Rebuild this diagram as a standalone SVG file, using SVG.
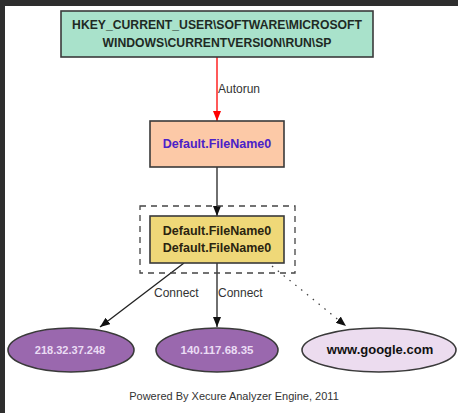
<svg xmlns="http://www.w3.org/2000/svg" width="458" height="413" viewBox="0 0 458 413">
<defs>
<style>
.lbl{font-family:"Liberation Sans",Arial,sans-serif;font-size:12px;fill:#333;}
.bold{font-family:"Liberation Sans",Arial,sans-serif;font-weight:bold;text-anchor:middle;}
.node{stroke:#3a3a3a;stroke-width:1.6;}
.edge{fill:none;stroke-width:1.3;}
</style>
<marker id="ah" markerWidth="10" markerHeight="8" refX="10" refY="4" orient="auto" markerUnits="userSpaceOnUse"><path d="M0,0 L10,4 L0,8 Z" fill="#111"/></marker>
<marker id="ahr" markerWidth="10" markerHeight="8" refX="10" refY="4" orient="auto" markerUnits="userSpaceOnUse"><path d="M0,0 L10,4 L0,8 Z" fill="#ff0000"/></marker>
</defs>
<rect x="0" y="0" width="458" height="413" fill="#2e2e2e"/>
<rect x="5" y="6" width="453" height="407" fill="#ffffff"/>

<g id="connectors">
<path class="edge" d="M217,57 L217,121" stroke="#ff0000" marker-end="url(#ahr)"/>
<text class="lbl" x="218" y="93">Autorun</text>
<path class="edge" d="M217,167 L217,216" stroke="#222" marker-end="url(#ah)"/>
<path class="edge" d="M184,263 L100,327" stroke="#222" marker-end="url(#ah)"/>
<text class="lbl" x="154" y="297">Connect</text>
<path class="edge" d="M217,263 L217,327" stroke="#222" marker-end="url(#ah)"/>
<text class="lbl" x="218" y="297">Connect</text>
<path class="edge" d="M272,266 L346,326" stroke="#444" stroke-dasharray="1.5,6" marker-end="url(#ah)"/>
</g>

<g id="registry">
<rect class="node" x="61" y="11" width="312" height="46" fill="#a9e2cb"/>
<text class="bold" x="217" y="29" font-size="12.2" fill="#1f2a24">HKEY_CURRENT_USER\SOFTWARE\MICROSOFT</text>
<text class="bold" x="217" y="47" font-size="12.2" fill="#1f2a24">WINDOWS\CURRENTVERSION\RUN\SP</text>
</g>

<g id="file0">
<rect class="node" x="150" y="121" width="134" height="46" fill="#fcc9a7"/>
<text class="bold" x="217" y="148" font-size="12.5" fill="#4a22c8">Default.FileName0</text>
</g>

<g id="cluster">
<rect x="140" y="206" width="155" height="67" fill="none" stroke="#444" stroke-width="1.3" stroke-dasharray="6,5"/>
<g id="files">
<rect class="node" x="150" y="216" width="134" height="47" fill="#efd878" stroke-width="2"/>
<text class="bold" x="217" y="235" font-size="12.5" fill="#2a2410">Default.FileName0</text>
<text class="bold" x="217" y="252" font-size="12.5" fill="#2a2410">Default.FileName0</text>
</g>
</g>

<g id="ip1">
<ellipse class="node" cx="71" cy="350" rx="63" ry="22" fill="#9a68ae"/>
<text class="bold" x="70" y="354" font-size="11" fill="#eadcf4">218.32.37.248</text>
</g>
<g id="ip2">
<ellipse class="node" cx="217" cy="350" rx="61" ry="22" fill="#9a68ae"/>
<text class="bold" x="217" y="354" font-size="11.5" fill="#eadcf4">140.117.68.35</text>
</g>
<g id="google">
<ellipse class="node" cx="379" cy="350" rx="77" ry="22" fill="#ecdcef"/>
<text class="bold" x="380" y="354" font-size="13" fill="#111">www.google.com</text>
</g>

<text x="234" y="400" text-anchor="middle" font-family="'Liberation Sans',Arial,sans-serif" font-size="11" fill="#333">Powered By Xecure Analyzer Engine, 2011</text>
</svg>
